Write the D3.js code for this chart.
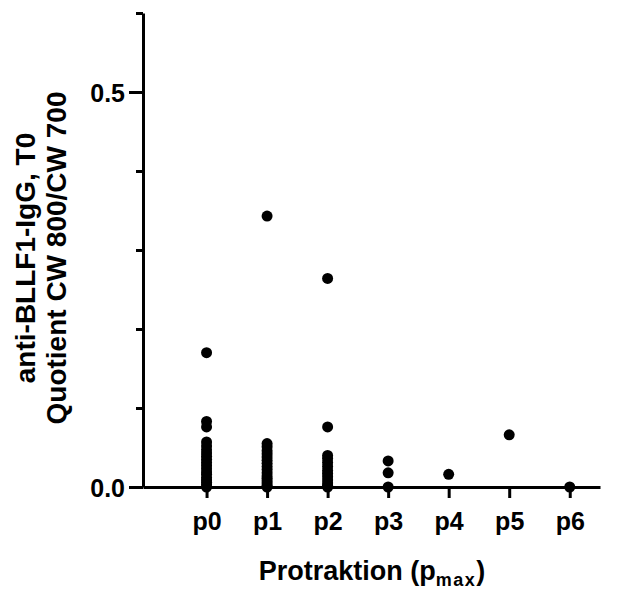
<!DOCTYPE html>
<html>
<head>
<meta charset="utf-8">
<script src="https://cdn.jsdelivr.net/npm/d3@7"></script>
<style>
  html, body { margin: 0; padding: 0; background: #fff; }
  svg { display: block; }
  text { font-family: "Liberation Sans", Arial, sans-serif; font-weight: bold; fill: #000; }
</style>
</head>
<body>
<svg id="chart" width="621" height="594"></svg>
<script>
const categories = ["p0", "p1", "p2", "p3", "p4", "p5", "p6"];
const p0 = [0.170, 0.083, 0.076, 0.057, 0.052, 0.047, 0.043, 0.039, 0.035, 0.031, 0.027, 0.023, 0.019, 0.016, 0.012, 0.009, 0.006, 0.003, 0.0];
const p1 = [0.343, 0.055, 0.051, 0.046, 0.042, 0.038, 0.034, 0.030, 0.026, 0.022, 0.018, 0.014, 0.011, 0.008, 0.005, 0.002, 0.0];
const p2 = [0.264, 0.076, 0.040, 0.036, 0.031, 0.026, 0.021, 0.017, 0.013, 0.009, 0.005, 0.002, 0.0];
const p3 = [0.033, 0.018, 0.0];
const p4 = [0.016];
const p5 = [0.066];
const p6 = [0.0];
const seriesValues = [p0, p1, p2, p3, p4, p5, p6];
const yTicks = [0, 0.1, 0.2, 0.3, 0.4, 0.5, 0.6];
const yTickLabels = {0: "0.0", 0.5: "0.5"};

const svg = d3.select("#chart");
const mLeft = 143, mRight = 600, mTop = 13, mBottom = 487;
const FONT = "'Liberation Sans', Arial, sans-serif";

const x = d3.scaleLinear().domain([-1.05, 6.5]).range([mLeft, mRight]);
const y = d3.scaleLinear().domain([0, 0.6]).range([mBottom, mTop]);

// X axis
const xAxis = d3.axisBottom(x).tickValues(d3.range(categories.length)).tickSize(11).tickSizeOuter(0)
  .tickFormat(i => categories[i]);
const gx = svg.append("g").attr("transform", `translate(0,${mBottom})`).call(xAxis);
gx.select(".domain").attr("stroke", "#000").attr("stroke-width", 3);
gx.selectAll(".tick line").attr("stroke", "#000").attr("stroke-width", 3);
gx.selectAll(".tick text").attr("y", 25).attr("dy", "0.71em")
  .style("font-size", "25px").style("font-family", FONT).style("font-weight", "bold");

// Y axis
const yAxis = d3.axisLeft(y).tickValues(yTicks).tickSize(7).tickSizeOuter(0)
  .tickFormat(d => yTickLabels[d] !== undefined ? yTickLabels[d] : "");
const gy = svg.append("g").attr("transform", `translate(${mLeft},0)`).call(yAxis);
gy.select(".domain").attr("stroke", "#000").attr("stroke-width", 3);
gy.selectAll(".tick line").attr("stroke", "#000").attr("stroke-width", 3)
  .attr("x2", d => yTickLabels[d] !== undefined ? -14 : -7);
gy.selectAll(".tick text").attr("x", -18).attr("dy", "0.36em")
  .style("font-size", "25px").style("font-family", FONT).style("font-weight", "bold");

// Dots
const pts = [];
seriesValues.forEach((vals, i) => vals.forEach(v => pts.push({i, v})));
svg.append("g").selectAll("circle").data(pts).join("circle")
  .attr("cx", d => x(d.i)).attr("cy", d => y(d.v)).attr("r", 5.5).attr("fill", "#000");

// Y title
const yt = svg.append("text").attr("transform", `translate(35,258) rotate(-90)`)
  .attr("text-anchor", "middle").style("font-size", "28px");
yt.append("tspan").attr("x", 0).attr("dy", 0).text("anti-BLLF1-IgG, T0");
yt.append("tspan").attr("x", 0).attr("dy", 31).text("Quotient CW 800/CW 700");

// X title
const xt = svg.append("text").attr("x", 372).attr("y", 580).attr("text-anchor", "middle").style("font-size", "27px");
xt.append("tspan").text("Protraktion (p");
xt.append("tspan").style("font-size", "18px").attr("dy", 6).attr("letter-spacing", 1.5).text("max");
xt.append("tspan").attr("dy", -6).text(")");
</script>
</body>
</html>
